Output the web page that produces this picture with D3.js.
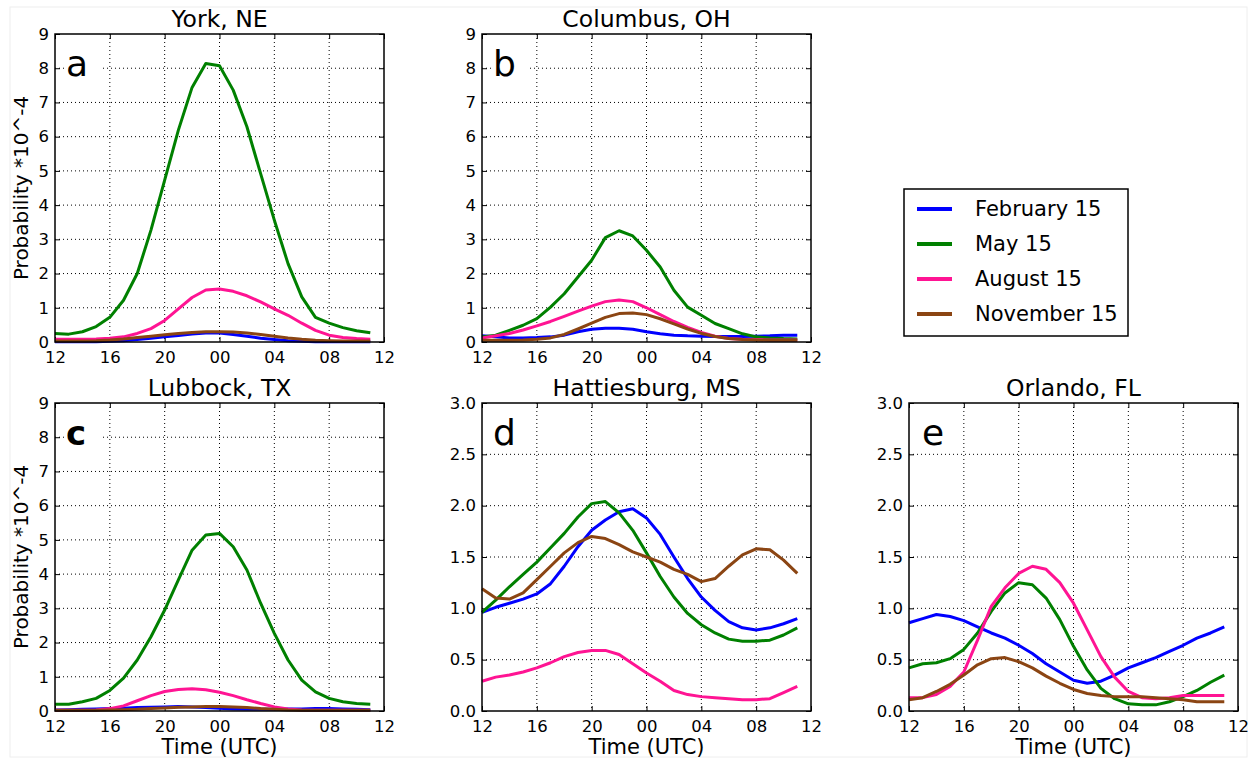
<!DOCTYPE html>
<html>
<head>
<meta charset="utf-8">
<script src="https://cdn.jsdelivr.net/npm/d3@7"></script>
<style>
body { margin: 0; background: #fff; }
text { font-family: "DejaVu Sans", sans-serif; fill: #000; }
</style>
</head>
<body>
<div id="chart"></div>
<script>
var W = 1255, H = 762;

// hours 12 UTC .. 11 UTC next day (as 12..35)
var hours = d3.range(12, 36);
var xTicks = [12, 16, 20, 24, 28, 32, 36];
var xTickLabels = ["12", "16", "20", "00", "04", "08", "12"];

var seasons = ["February 15", "May 15", "August 15", "November 15"];
var colors = ["#0000ff", "#008000", "#ff1493", "#8b4513"];

var york_feb = [0.01,0.01,0.01,0.01,0.02,0.04,0.07,0.11,0.15,0.19,0.23,0.26,0.26,0.22,0.17,0.11,0.07,0.04,0.02,0.01,0.01,0.01,0.01,0.01];
var york_may = [0.25,0.23,0.3,0.45,0.72,1.22,2.0,3.27,4.73,6.19,7.44,8.14,8.07,7.36,6.29,4.92,3.56,2.29,1.32,0.72,0.55,0.42,0.33,0.27];
var york_aug = [0.08,0.08,0.08,0.09,0.11,0.15,0.25,0.39,0.63,0.97,1.3,1.52,1.55,1.48,1.35,1.17,0.97,0.78,0.55,0.34,0.2,0.13,0.1,0.08];
var york_nov = [0.03,0.03,0.03,0.04,0.06,0.09,0.13,0.17,0.21,0.25,0.28,0.3,0.3,0.29,0.26,0.22,0.17,0.12,0.08,0.05,0.04,0.03,0.03,0.03];

var colu_feb = [0.18,0.15,0.12,0.12,0.13,0.15,0.2,0.3,0.37,0.4,0.4,0.37,0.3,0.24,0.2,0.18,0.17,0.16,0.16,0.16,0.17,0.18,0.2,0.2];
var colu_may = [0.15,0.2,0.34,0.49,0.68,1.02,1.41,1.9,2.39,3.05,3.25,3.1,2.68,2.19,1.51,1.02,0.78,0.54,0.39,0.24,0.15,0.12,0.1,0.09];
var colu_aug = [0.12,0.18,0.25,0.35,0.47,0.6,0.75,0.9,1.05,1.18,1.23,1.18,1.0,0.8,0.6,0.43,0.28,0.17,0.1,0.08,0.07,0.06,0.06,0.06];
var colu_nov = [0.05,0.05,0.05,0.06,0.08,0.12,0.22,0.38,0.55,0.72,0.83,0.85,0.8,0.68,0.53,0.38,0.25,0.16,0.1,0.07,0.06,0.05,0.05,0.05];

var lubb_feb = [0.03,0.04,0.05,0.06,0.07,0.08,0.1,0.11,0.12,0.13,0.12,0.1,0.08,0.06,0.05,0.05,0.05,0.06,0.06,0.07,0.07,0.06,0.05,0.04];
var lubb_may = [0.2,0.2,0.27,0.37,0.6,0.96,1.49,2.17,2.95,3.83,4.7,5.14,5.19,4.8,4.12,3.15,2.27,1.49,0.9,0.56,0.37,0.27,0.22,0.2];
var lubb_aug = [0.02,0.02,0.02,0.03,0.07,0.15,0.3,0.45,0.57,0.63,0.65,0.62,0.55,0.45,0.33,0.22,0.12,0.06,0.03,0.02,0.02,0.02,0.02,0.02];
var lubb_nov = [0.02,0.02,0.02,0.02,0.03,0.04,0.05,0.07,0.09,0.11,0.12,0.13,0.13,0.12,0.1,0.07,0.05,0.03,0.02,0.02,0.02,0.02,0.02,0.02];

var hatt_feb = [0.96,1.01,1.05,1.09,1.14,1.24,1.41,1.6,1.76,1.86,1.94,1.97,1.88,1.72,1.5,1.29,1.11,0.98,0.87,0.81,0.79,0.81,0.85,0.9];
var hatt_may = [0.96,1.08,1.21,1.33,1.45,1.59,1.73,1.89,2.02,2.04,1.93,1.76,1.54,1.31,1.11,0.95,0.84,0.76,0.7,0.68,0.68,0.69,0.74,0.81];
var hatt_aug = [0.29,0.33,0.35,0.38,0.42,0.47,0.53,0.57,0.59,0.59,0.55,0.46,0.37,0.29,0.2,0.16,0.14,0.13,0.12,0.11,0.11,0.12,0.18,0.24];
var hatt_nov = [1.19,1.1,1.09,1.15,1.28,1.41,1.54,1.64,1.7,1.68,1.62,1.55,1.5,1.45,1.38,1.33,1.26,1.29,1.41,1.52,1.58,1.57,1.47,1.34];

var orla_feb = [0.86,0.9,0.94,0.92,0.88,0.82,0.76,0.71,0.64,0.56,0.46,0.38,0.3,0.27,0.29,0.35,0.42,0.47,0.52,0.58,0.64,0.71,0.76,0.82];
var orla_may = [0.42,0.46,0.47,0.51,0.6,0.76,0.97,1.15,1.25,1.23,1.1,0.89,0.63,0.4,0.22,0.12,0.07,0.06,0.06,0.09,0.14,0.2,0.28,0.35];
var orla_aug = [0.13,0.13,0.16,0.24,0.38,0.69,1.02,1.2,1.34,1.41,1.38,1.25,1.05,0.79,0.53,0.33,0.19,0.13,0.12,0.13,0.15,0.15,0.15,0.15];
var orla_nov = [0.11,0.13,0.19,0.26,0.35,0.45,0.51,0.52,0.48,0.42,0.34,0.27,0.21,0.17,0.15,0.14,0.14,0.14,0.13,0.12,0.11,0.09,0.09,0.09];

var intTicks = d3.range(0, 10);
var halfTicks = [0, 0.5, 1, 1.5, 2, 2.5, 3];

var panels = [
	{title: "York, NE", letter: "a", x0: 55, y0: 34, ymax: 9, yticks: intTicks, fmt: d3.format("d"), ylab: true, xlab: false,
	 series: [york_feb, york_may, york_aug, york_nov]},
	{title: "Columbus, OH", letter: "b", x0: 482, y0: 34, ymax: 9, yticks: intTicks, fmt: d3.format("d"), ylab: false, xlab: false,
	 series: [colu_feb, colu_may, colu_aug, colu_nov]},
	{title: "Lubbock, TX", letter: "c", x0: 55, y0: 403, ymax: 9, yticks: intTicks, fmt: d3.format("d"), ylab: true, xlab: true,
	 series: [lubb_feb, lubb_may, lubb_aug, lubb_nov]},
	{title: "Hattiesburg, MS", letter: "d", x0: 482, y0: 403, ymax: 3, yticks: halfTicks, fmt: d3.format(".1f"), ylab: false, xlab: true,
	 series: [hatt_feb, hatt_may, hatt_aug, hatt_nov]},
	{title: "Orlando, FL", letter: "e", x0: 909, y0: 403, ymax: 3, yticks: halfTicks, fmt: d3.format(".1f"), ylab: false, xlab: true,
	 series: [orla_feb, orla_may, orla_aug, orla_nov]}
];

var pw = 329, ph = 308;

var svg = d3.select("#chart")
	.append("svg")
	.attr("width", W)
	.attr("height", H);

svg.append("rect")
	.attr("x", 10).attr("y", 7)
	.attr("width", 1237).attr("height", 750)
	.attr("fill", "none")
	.attr("stroke", "#eeeeee");

panels.forEach(function(p) {
	var g = svg.append("g").attr("transform", "translate(" + p.x0 + "," + p.y0 + ")");

	var x = d3.scaleLinear().domain([12, 36]).range([0, pw]);
	var y = d3.scaleLinear().domain([0, p.ymax]).range([ph, 0]);

	// dotted grid
	g.selectAll(".gx").data(xTicks.slice(1, -1)).enter().append("line")
		.attr("x1", d => x(d)).attr("x2", d => x(d))
		.attr("y1", 0).attr("y2", ph)
		.attr("stroke", "#000").attr("stroke-width", 1)
		.attr("stroke-dasharray", "1,3");
	g.selectAll(".gy").data(p.yticks.slice(1, -1)).enter().append("line")
		.attr("x1", 0).attr("x2", pw)
		.attr("y1", d => y(d)).attr("y2", d => y(d))
		.attr("stroke", "#000").attr("stroke-width", 1)
		.attr("stroke-dasharray", "1,3");

	// axes with inward ticks
	var xa = g.append("g").attr("transform", "translate(0," + ph + ")")
		.call(d3.axisBottom(x).tickValues(xTicks).tickSize(-5).tickPadding(9)
			.tickFormat((d, i) => xTickLabels[i]));
	g.append("g")
		.call(d3.axisTop(x).tickValues(xTicks).tickSize(-5).tickFormat(""));
	var ya = g.append("g")
		.call(d3.axisLeft(y).tickValues(p.yticks).tickSize(-5).tickPadding(6).tickFormat(p.fmt));
	g.append("g").attr("transform", "translate(" + pw + ",0)")
		.call(d3.axisRight(y).tickValues(p.yticks).tickSize(-5).tickFormat(""));

	g.selectAll(".domain").attr("stroke", "none");
	g.selectAll(".tick line").attr("stroke", "#000").attr("stroke-width", 1);
	xa.selectAll("text").attr("font-size", 16.5).attr("font-family", "DejaVu Sans").attr("fill", "#000");
	ya.selectAll("text").attr("font-size", 16.5).attr("font-family", "DejaVu Sans").attr("fill", "#000");

	// panel letter on a white patch
	var lx = p.letter == "e" ? 13 : 11;
	g.append("rect")
		.attr("x", lx - 2).attr("y", 10)
		.attr("width", 36).attr("height", 36)
		.attr("fill", "#fff");
	g.append("text")
		.text(p.letter)
		.attr("x", lx).attr("y", 42)
		.attr("font-size", p.letter == "c" ? 34 : 36)
		.attr("font-family", p.letter == "c" ? "Liberation Sans" : "DejaVu Sans")
		.attr("font-weight", p.letter == "c" ? "bold" : "normal");

	// lines
	var line = d3.line().x((d, i) => x(hours[i])).y(d => y(d));
	p.series.forEach(function(s, k) {
		g.append("path")
			.datum(s)
			.attr("d", line)
			.attr("fill", "none")
			.attr("stroke", colors[k])
			.attr("stroke-width", 3)
			.attr("stroke-linejoin", "round");
	});

	// frame
	g.append("rect")
		.attr("width", pw).attr("height", ph)
		.attr("fill", "none")
		.attr("stroke", "#000")
		.attr("stroke-width", 1.5);

	g.append("text")
		.text(p.title)
		.attr("x", pw / 2).attr("y", -7)
		.attr("text-anchor", "middle")
		.attr("font-size", 23.5);

	if (p.ylab) {
		g.append("text")
			.text("Probability *10^-4")
			.attr("transform", "translate(-27," + (ph / 2) + ") rotate(-90)")
			.attr("text-anchor", "middle")
			.attr("font-size", 20);
	}
	if (p.xlab) {
		g.append("text")
			.text("Time (UTC)")
			.attr("x", pw / 2).attr("y", ph + 43)
			.attr("text-anchor", "middle")
			.attr("font-size", 21);
	}
});

// legend
var lg = svg.append("g").attr("transform", "translate(904,189)");
lg.append("rect")
	.attr("width", 224).attr("height", 147)
	.attr("fill", "#fff")
	.attr("stroke", "#000")
	.attr("stroke-width", 1.5);
seasons.forEach(function(s, k) {
	var yy = 20 + k * 35;
	lg.append("line")
		.attr("x1", 13).attr("x2", 48)
		.attr("y1", yy).attr("y2", yy)
		.attr("stroke", colors[k])
		.attr("stroke-width", 4);
	lg.append("text")
		.text(s)
		.attr("x", 71).attr("y", yy + 7)
		.attr("font-size", 21);
});
</script>
</body>
</html>
